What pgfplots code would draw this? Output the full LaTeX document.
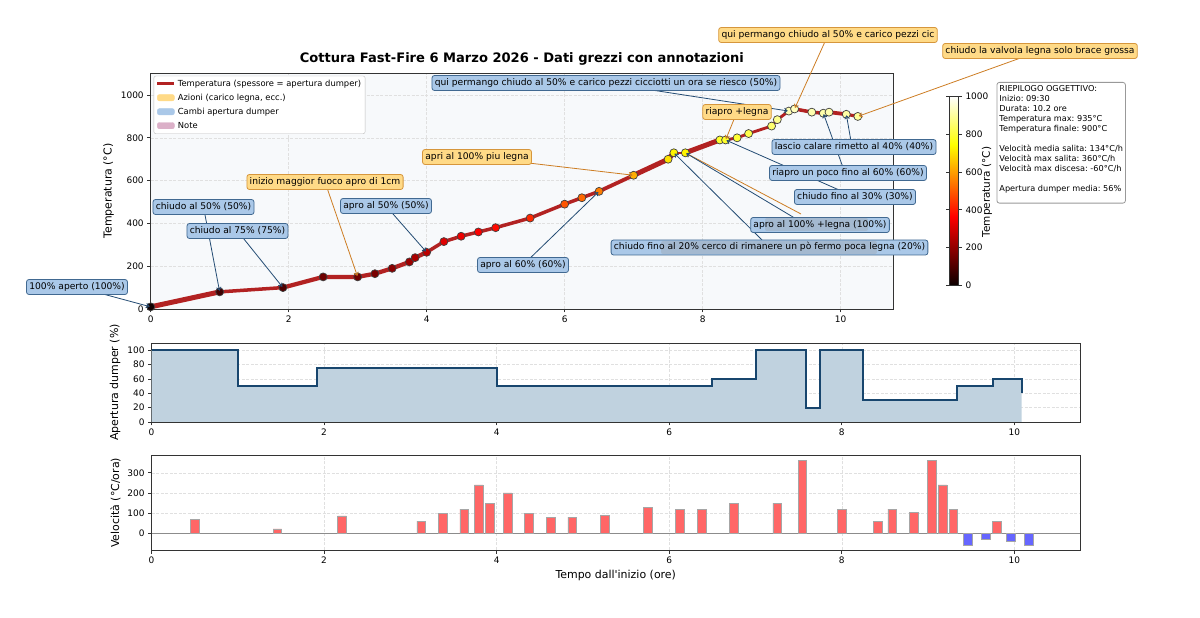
\documentclass[border=0pt]{standalone}
\usepackage{pgfplots}
\pgfplotsset{compat=1.18}
\usepackage{fontspec}
\setmainfont{DejaVu Sans}[Ligatures=TeXOff]
\usetikzlibrary{arrows.meta}
\frenchspacing

\definecolor{linered}{RGB}{178,34,34}
\definecolor{yfill}{RGB}{255,218,135}
\definecolor{ydraw}{RGB}{214,150,60}
\definecolor{yarrow}{RGB}{205,125,35}
\definecolor{bfill}{RGB}{170,200,232}
\definecolor{bdraw}{RGB}{65,105,145}
\definecolor{barrow}{RGB}{35,75,115}
\definecolor{dumpfill}{RGB}{192,210,223}
\definecolor{dumpline}{RGB}{24,70,110}
\definecolor{topbg}{RGB}{247,249,251}
\definecolor{notepink}{RGB}{219,176,200}
\definecolor{posbar}{RGB}{255,102,102}
\definecolor{negbar}{RGB}{102,102,255}

\newcommand\fs[2]{\fontsize{#1}{#2}\selectfont}

\pgfplotsset{
 myaxis/.style={scale only axis, tick pos=left, tick align=outside, major tick length=3.5bp,
   axis line style={black!80, line width=0.8bp}, tick style={black!80, line width=0.8bp},
   grid=major, grid style={dash pattern=on 3bp off 1.5bp, black!12, line width=0.6bp},
   ticklabel style={font=\fs{9}{10}}, label style={font=\fs{11}{13}},
   /pgf/number format/assume math mode=true, /pgf/number format/1000 sep={}},
 seg/.style={linered, line width=#1, line cap=round, line join=round, forget plot},
}
\tikzset{
 bnode/.style={draw=bdraw, fill=bfill, rounded corners=2.5bp, inner xsep=2.8bp, inner ysep=3bp,
   font=\fs{9.2}{10}, line width=0.8bp, text height=7bp, text depth=2bp},
 ynode/.style={bnode, draw=ydraw, fill=yfill},
 barr/.style={draw=barrow, line width=0.8bp, -{Straight Barb[length=3bp,width=4.5bp]}, shorten >=1bp},
 yarr/.style={draw=yarrow, line width=0.8bp, -{Straight Barb[length=3bp,width=4.5bp]}, shorten >=1bp},
}

\pgfplotstableread{
x T
0 10
1.0 80
1.917 100
2.5 150
3.0 150
3.25 165
3.5 190
3.75 220
3.833 240
4.0 265
4.25 315
4.5 340
4.75 360
5.0 380
5.5 425
6.0 490
6.25 520
6.5 550
7.0 625
7.5 700
7.583 730
7.75 730
8.25 790
8.333 790
8.5 800
8.667 820
9.0 855
9.083 885
9.25 925
9.333 935
9.583 920
9.75 915
9.833 920
10.083 910
10.25 900
}\temptab

\pgfplotstableread{
x d
0 100
1.0 50
1.917 75
4.0 50
6.5 60
7.0 100
7.583 20
7.75 100
8.25 30
9.333 50
9.75 60
10.083 40
}\dumptab

\pgfplotstableread{
x v
0.5 70
1.458 22
2.208 86
3.125 60
3.375 100
3.625 120
3.792 240
3.917 150
4.125 200
4.375 100
4.625 80
4.875 80
5.25 90
5.75 130
6.125 120
6.375 120
6.75 150
7.25 150
7.542 360
8.0 120
8.417 60
8.583 120
8.833 105
9.042 360
9.167 240
9.292 120
9.792 60
}\postab

\pgfplotstableread{
x v
9.458 -60
9.667 -30
9.958 -40
10.167 -60
}\negtab

\begin{document}
\begin{tikzpicture}
% ---------------- top panel ----------------
\begin{axis}[myaxis, name=top, at={(150.7bp,309bp)}, anchor=south west,
  width=742.3bp, height=236bp,
  xmin=0, xmax=10.76, ymin=0, ymax=1103,
  xtick={0,2,...,10}, ytick={0,200,...,1000},
  ylabel={Temperatura (°C)},
  axis background/.style={fill=topbg},
  title={Cottura Fast-Fire 6 Marzo 2026 - Dati grezzi con annotazioni},
  title style={font=\bfseries\fs{13.1}{15}, yshift=-2bp},
  colormap={hot}{rgb(0cm)=(0.0416,0,0) rgb(3.65cm)=(1,0,0) rgb(7.46cm)=(1,1,0) rgb(10cm)=(1,1,1)},
  point meta min=0, point meta max=1000,
  colorbar,
  colorbar style={at={(parent axis.east)}, anchor=west, xshift=48bp,
    scale only axis, width=9bp, height=189bp,
    ytick={0,200,...,1000}, xtick=\empty,
    yticklabel style={font=\fs{9}{10}}, tick align=outside, major tick length=3.5bp,
    axis line style={black!80, line width=0.8bp}, tick style={black!80, line width=0.8bp},
    /pgf/number format/assume math mode=true, /pgf/number format/1000 sep={}, ylabel={}},
  legend style={at={(0.004,0.988)}, anchor=north west, font=\fs{8.4}{9.5},
    draw=black!25, fill=white, rounded corners=2bp, inner sep=2bp, row sep=2.2bp},
  legend cell align=left]
\addplot[seg=5bp] coordinates {(0,10) (1,80)};
\addplot[seg=3.5bp] coordinates {(1,80) (1.917,100)};
\addplot[seg=4.25bp] coordinates {(1.917,100) (2.5,150) (3,150) (3.25,165) (3.5,190) (3.75,220) (3.833,240) (4,265)};
\addplot[seg=3.5bp] coordinates {(4,265) (4.25,315) (4.5,340) (4.75,360) (5,380) (5.5,425) (6,490) (6.25,520) (6.5,550)};
\addplot[seg=3.8bp] coordinates {(6.5,550) (7,625)};
\addplot[seg=5bp] coordinates {(7,625) (7.5,700) (7.583,730)};
\addplot[seg=2.6bp] coordinates {(7.583,730) (7.75,730)};
\addplot[seg=5bp] coordinates {(7.75,730) (8.25,790)};
\addplot[seg=2.9bp] coordinates {(8.25,790) (8.333,790) (8.5,800) (8.667,820) (9,855) (9.083,885) (9.25,925) (9.333,935)};
\addplot[seg=3.5bp] coordinates {(9.333,935) (9.583,920) (9.75,915)};
\addplot[seg=3.8bp] coordinates {(9.75,915) (9.833,920) (10.083,910)};
\addplot[seg=3.2bp] coordinates {(10.083,910) (10.25,900)};
\addplot[scatter, only marks, scatter src=y, mark=*, mark size=4bp, forget plot,
  scatter/use mapped color={draw=black!75, fill=mapped color}, mark options={line width=0.7bp}]
  table[x=x, y=T] {\temptab};
\addlegendimage{linered, line width=3bp}
\addlegendentry{Temperatura (spessore = apertura dumper)}
\addlegendimage{legend image code/.code={\fill[yfill] (0cm,-0.1cm) rectangle (0.6cm,0.12cm);}}
\addlegendentry{Azioni (carico legna, ecc.)}
\addlegendimage{legend image code/.code={\fill[bfill] (0cm,-0.1cm) rectangle (0.6cm,0.12cm);}}
\addlegendentry{Cambi apertura dumper}
\addlegendimage{legend image code/.code={\fill[notepink] (0cm,-0.1cm) rectangle (0.6cm,0.12cm);}}
\addlegendentry{Note}
\coordinate (t0) at (axis cs:0,10);
\coordinate (t1) at (axis cs:1,80);
\coordinate (t2) at (axis cs:1.917,100);
\coordinate (t3) at (axis cs:3,150);
\coordinate (t4) at (axis cs:4,265);
\coordinate (t5) at (axis cs:6.5,550);
\coordinate (t6) at (axis cs:7,625);
\coordinate (t7) at (axis cs:7.583,730);
\coordinate (t8) at (axis cs:7.75,730);
\coordinate (t9) at (axis cs:8.333,790);
\coordinate (t10) at (axis cs:9.25,925);
\coordinate (t11) at (axis cs:9.333,935);
\coordinate (t12) at (axis cs:9.75,915);
\coordinate (t13) at (axis cs:10.083,910);
\coordinate (t14) at (axis cs:10.25,900);
\end{axis}

% ---------------- middle panel ----------------
\begin{axis}[myaxis, at={(151.5bp,196bp)}, anchor=south west,
  width=928.5bp, height=79bp,
  xmin=0, xmax=10.76, ymin=0, ymax=110,
  xtick={0,2,...,10}, ytick={0,20,...,100},
  ylabel={Apertura dumper (\%)}]
\addplot[const plot, fill=dumpfill, draw=none] table[x=x, y=d] {\dumptab} \closedcycle;
\addplot[const plot, dumpline, line width=2bp] table[x=x, y=d] {\dumptab};
\end{axis}

% ---------------- bottom panel ----------------
\begin{axis}[myaxis, at={(151.5bp,68bp)}, anchor=south west,
  width=928.5bp, height=94.3bp,
  xmin=0, xmax=10.76, ymin=-83, ymax=385,
  xtick={0,2,...,10}, ytick={0,100,200,300},
  xlabel={Tempo dall'inizio (ore)}, ylabel={Velocità (°C/ora)}]
\draw[black!45, line width=1bp] (axis cs:0,0) -- (axis cs:10.76,0);
\addplot[ybar, bar width=0.1, bar shift=0pt, fill=posbar, draw=black!35, line width=0.5bp] table[x=x, y=v] {\postab};
\addplot[ybar, bar width=0.1, bar shift=0pt, fill=negbar, draw=black!35, line width=0.5bp] table[x=x, y=v] {\negtab};
\end{axis}

% ---------------- annotations ----------------
\draw[barr] (77bp,331bp) -- (t0);
\draw[barr] (203.5bp,411bp) -- (t1);
\draw[barr] (237.5bp,387bp) -- (t2);
\draw[barr] (386bp,412bp) -- (t4);
\draw[barr] (523bp,353bp) -- (t5);
\draw[barr] (606bp,535bp) -- (t10);
\draw[barr] (845bp,445bp) -- (t12);
\draw[barr] (852bp,471bp) -- (t13);
\draw[barr] (855bp,421bp) -- (t9);
\draw[yarr] (801bp,404bp) -- (t8);
\draw[barr] (803bp,395bp) -- (t8);
\draw[barr] (762bp,378bp) -- (t7);
\draw[yarr] (325bp,436bp) -- (t3);
\draw[yarr] (477bp,461bp) -- (t6);
\draw[yarr] (737bp,506bp) -- (t9);
\draw[yarr] (828bp,583bp) -- (t11);
\draw[yarr] (1040bp,567bp) -- (t14);

\node[bnode] at (77bp,331bp) {100\% aperto (100\%)};
\node[bnode] at (203.5bp,411bp) {chiudo al 50\% (50\%)};
\node[bnode] at (237.5bp,387bp) {chiudo al 75\% (75\%)};
\node[bnode] at (386bp,412bp) {apro al 50\% (50\%)};
\node[bnode] at (523bp,353bp) {apro al 60\% (60\%)};
\node[bnode] at (606bp,535bp) {qui permango chiudo al 50\% e carico pezzi cicciotti un ora se riesco (50\%)};
\node[bnode] at (848bp,445bp) {riapro un poco fino al 60\% (60\%)};
\node[bnode] at (854bp,471bp) {lascio calare rimetto al 40\% (40\%)};
\node[bnode] at (855bp,421bp) {chiudo fino al 30\% (30\%)};
\node[bnode] at (820bp,393bp) {\phantom{apro al 100\% +legna (100\%)}};
\fill[black!40, fill opacity=0.3, rounded corners=2bp] (765bp,387bp) rectangle (868bp,400bp);
\node[bnode, draw=none, fill=none] at (820bp,393bp) {apro al 100\% +legna (100\%)};
\node[bnode] at (769.5bp,370.5bp) {\phantom{chiudo fino al 20\% cerco di rimanere un pò fermo poca legna (20\%)}};
\fill[black!40, fill opacity=0.3, rounded corners=2bp] (661bp,364bp) rectangle (877bp,377bp);
\node[bnode, draw=none, fill=none] at (769.5bp,370.5bp) {chiudo fino al 20\% cerco di rimanere un pò fermo poca legna (20\%)};

\node[ynode] at (325bp,436bp) {inizio maggior fuoco apro di 1cm};
\node[ynode] at (477bp,461bp) {apri al 100\% piu legna};
\node[ynode] at (737bp,506bp) {riapro +legna};
\node[ynode] at (828bp,583bp) {qui permango chiudo al 50\% e carico pezzi cic};
\node[ynode] at (1040bp,567bp) {chiudo la valvola legna solo brace grossa};

\node[rotate=90, font=\fs{10.5}{12}] at (987bp,426bp) {Temperatura (°C)};

\node[draw=black!40, line width=0.8bp, rounded corners=2.5bp, fill=white, anchor=north west,
  align=left, font=\fs{8.2}{10}, inner xsep=2.5bp, inner ysep=3.5bp]
  at (996.5bp,536bp) {RIEPILOGO OGGETTIVO:\\
Inizio: 09:30\\
Durata: 10.2 ore\\
Temperatura max: 935°C\\
Temperatura finale: 900°C\\[10bp]
Velocità media salita: 134°C/h\\
Velocità max salita: 360°C/h\\
Velocità max discesa: -60°C/h\\[10bp]
Apertura dumper media: 56\%\\[-2bp]\mbox{}};

\pgfresetboundingbox
\path[use as bounding box] (0,0) rectangle (1200bp,618bp);
\end{tikzpicture}
\end{document}
